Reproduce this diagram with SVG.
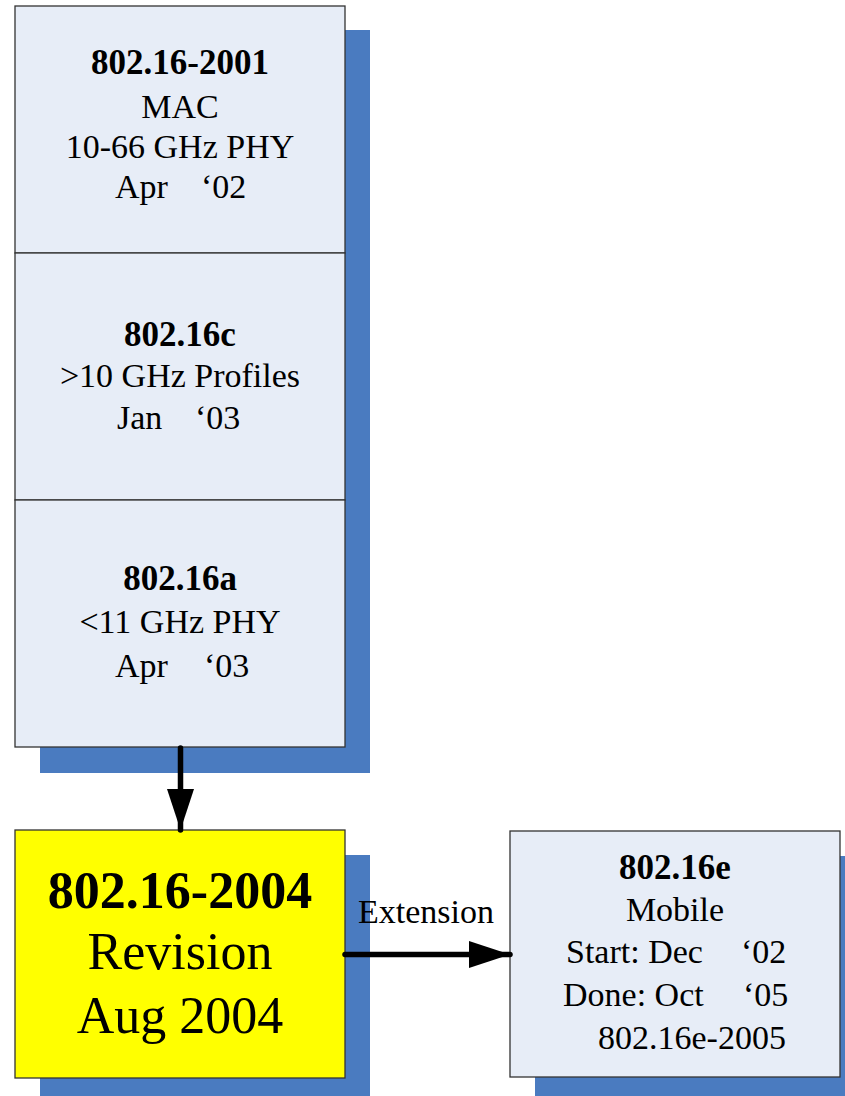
<svg xmlns="http://www.w3.org/2000/svg" width="845" height="1096" viewBox="0 0 845 1096">
  <style>
    .shadow { fill: #4A7BC0; }
    .box { fill: #E7EDF7; stroke: #333333; stroke-width: 1.3; }
    .hl { fill: #FFFF00; stroke: #333333; stroke-width: 1.3; }
    text { font-family: "Liberation Serif", "Times New Roman", serif; fill: #000; }
    .t { font-size: 34px; text-anchor: middle; }
    .b { font-size: 35px; font-weight: bold; text-anchor: middle; }
    .big { font-size: 52px; text-anchor: middle; }
    .bigb { font-size: 52px; font-weight: bold; text-anchor: middle; }
    .lbl { font-size: 34px; }
    .s { text-anchor: start; }
    .conn { stroke: #000; stroke-width: 5.5; stroke-linecap: round; fill: none; }
  </style>
  <defs>
    <marker id="head" markerUnits="userSpaceOnUse" markerWidth="42" markerHeight="28" refX="41" refY="13.5" orient="auto">
      <polygon points="0,0 41,13.5 0,27" fill="#000"/>
    </marker>
  </defs>

  <!-- drop shadows -->
  <g id="shadows">
    <rect class="shadow" x="40" y="30" width="330" height="743"/>
    <rect class="shadow" x="40" y="855" width="330" height="248"/>
    <rect class="shadow" x="535" y="856" width="330" height="246"/>
  </g>

  <!-- stacked amendments -->
  <g id="n2001">
    <rect class="box" x="15" y="6" width="330" height="247"/>
    <text class="b" x="180" y="74">802.16-2001</text>
    <text class="t" x="180" y="118">MAC</text>
    <text class="t" x="180" y="158">10-66 GHz PHY</text>
    <text class="t s" y="198"><tspan x="115">Apr</tspan><tspan x="201">‘02</tspan></text>
  </g>

  <g id="n16c">
    <rect class="box" x="15" y="253" width="330" height="247"/>
    <text class="b" x="180" y="346">802.16c</text>
    <text class="t" x="180" y="387">&gt;10 GHz Profiles</text>
    <text class="t s" y="429"><tspan x="117">Jan</tspan><tspan x="195">‘03</tspan></text>
  </g>

  <g id="n16a">
    <rect class="box" x="15" y="500" width="330" height="247"/>
    <text class="b" x="180" y="590">802.16a</text>
    <text class="t" x="180" y="633">&lt;11 GHz PHY</text>
    <text class="t s" y="677"><tspan x="115">Apr</tspan><tspan x="204">‘03</tspan></text>
  </g>

  <!-- consolidated revision -->
  <g id="n2004">
    <rect class="hl" x="15" y="830" width="330" height="248"/>
    <text class="bigb" x="180" y="908">802.16-2004</text>
    <text class="big" x="180" y="969">Revision</text>
    <text class="big" x="180" y="1033">Aug 2004</text>
  </g>

  <!-- mobile extension -->
  <g id="n16e">
    <rect class="box" x="510" y="831" width="330" height="246"/>
    <text class="b" x="675" y="879">802.16e</text>
    <text class="t" x="675" y="921">Mobile</text>
    <text class="t s" y="963"><tspan x="566">Start: Dec</tspan><tspan x="741">‘02</tspan></text>
    <text class="t s" y="1006"><tspan x="563">Done: Oct</tspan><tspan x="743">‘05</tspan></text>
    <text class="t s" x="598" y="1049">802.16e-2005</text>
  </g>

  <!-- connectors -->
  <g id="connectors">
    <line class="conn" x1="180.5" y1="748" x2="180.5" y2="830" marker-end="url(#head)"/>
    <line class="conn" x1="345" y1="954.5" x2="510" y2="954.5" marker-end="url(#head)"/>
    <text class="lbl" x="358" y="923">Extension</text>
  </g>
</svg>
